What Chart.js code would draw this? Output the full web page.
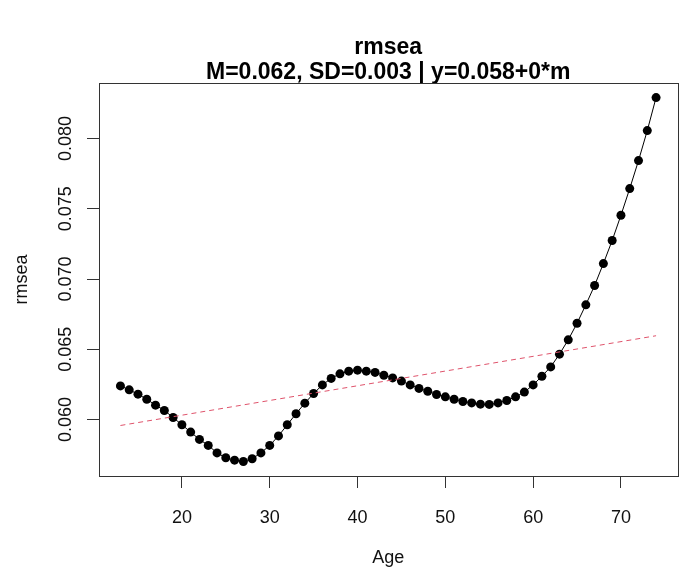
<!DOCTYPE html>
<html>
<head>
<meta charset="utf-8">
<script src="https://cdn.jsdelivr.net/npm/chart.js@4/dist/chart.umd.min.js"></script>
<style>
  html, body { margin: 0; padding: 0; background: #fff; overflow: hidden; }
  #wrap { width: 681px; height: 570px; overflow: hidden; }
</style>
</head>
<body>
<div id="wrap"><canvas id="rmseaPlot" width="682" height="570"></canvas></div>
<script>
const ages = [];
for (let a = 13; a <= 74; a++) ages.push(a);

const rmsea = [
	0.06239, 0.06211, 0.06180, 0.06144, 0.06102, 0.06064, 0.06014, 0.05962,
	0.05910, 0.05858, 0.05815, 0.05762, 0.05727, 0.05710, 0.05701, 0.05720,
	0.05762, 0.05815, 0.05883, 0.05962, 0.06041, 0.06116, 0.06185, 0.06246,
	0.06292, 0.06325, 0.06344, 0.06351, 0.06344, 0.06335, 0.06315, 0.06296,
	0.06273, 0.06246, 0.06221, 0.06201, 0.06178, 0.06161, 0.06144, 0.06128,
	0.06118, 0.06109, 0.06107, 0.06118, 0.06135, 0.06161, 0.06195, 0.06246,
	0.06308, 0.06374, 0.06465, 0.06567, 0.06685, 0.06816, 0.06954, 0.07110,
	0.07274, 0.07454, 0.07644, 0.07843, 0.08057, 0.08292,
];

const fitAges = [13, 74];
const fitValues = [0.05957, 0.06596];

const xTicks = [20, 30, 40, 50, 60, 70];
const yTicks = [0.060, 0.065, 0.070, 0.075, 0.080];

const titleLines = ["rmsea", "M=0.062, SD=0.003 | y=0.058+0*m"];

// R style axis range: data range plus 4% on each side
function rRange(vals) {
	const lo = Math.min(...vals);
	const hi = Math.max(...vals);
	const pad = (hi - lo) * 0.04;
	return [lo - pad, hi + pad];
}
const [xMin, xMax] = rRange(ages);
const [yMin, yMax] = rRange(rmsea);

const FONT = "'Liberation Sans', Arial, sans-serif";

const boxPlugin = {
	id: "box",
	afterDraw(chart) {
		const { ctx, chartArea: a } = chart;
		ctx.save();
		ctx.strokeStyle = "#333";
		ctx.lineWidth = 1;
		ctx.strokeRect(Math.round(a.left) + 0.5, Math.round(a.top) + 0.5,
			Math.round(a.right - a.left), Math.round(a.bottom - a.top));
		ctx.restore();
	},
};

new Chart(document.getElementById("rmseaPlot"), {
	type: "line",
	data: {
		datasets: [
			{
				label: "fit",
				data: fitAges.map((a, i) => ({ x: a, y: fitValues[i] })),
				borderColor: "#DF536B",
				borderWidth: 1,
				borderDash: [5, 4],
				pointRadius: 0,
				fill: false,
			},
			{
				label: "rmsea",
				data: ages.map((a, i) => ({ x: a, y: rmsea[i] })),
				borderColor: "#000",
				borderWidth: 1,
				pointRadius: 4.5,
				pointBackgroundColor: "#000",
				pointBorderWidth: 0,
				fill: false,
				tension: 0,
			},
		],
	},
	options: {
		responsive: false,
		animation: false,
		layout: { padding: { left: 0, right: 0, top: 0, bottom: 0 } },
		plugins: {
			legend: { display: false },
			tooltip: { enabled: false },
			title: {
				display: true,
				text: titleLines,
				fullSize: false,
				color: "#000",
				font: { family: FONT, size: 23, weight: "bold", lineHeight: 1.087 },
				padding: { top: 35, bottom: -2 },
			},
		},
		scales: {
			x: {
				type: "linear",
				min: xMin,
				max: xMax,
				afterBuildTicks: (s) => { s.ticks = xTicks.map((v) => ({ value: v })); },
				afterFit: (s) => { s.height = 94; },
				border: { display: false },
				grid: { drawOnChartArea: false, drawTicks: true, tickLength: 12, color: "#333" },
				ticks: {
					autoSkip: false,
					maxRotation: 0,
					padding: 19,
					color: "#111",
					font: { family: FONT, size: 18 },
				},
				title: {
					display: true,
					text: "Age",
					color: "#111",
					font: { family: FONT, size: 18 },
					padding: { top: 0, bottom: 1 },
				},
			},
			y: {
				type: "linear",
				min: yMin,
				max: yMax,
				afterBuildTicks: (s) => { s.ticks = yTicks.map((v) => ({ value: v })); },
				afterFit: (s) => { s.width = 99; },
				border: { display: false },
				grid: { drawOnChartArea: false, drawTicks: true, tickLength: 12, color: "#333" },
				ticks: {
					autoSkip: false,
					minRotation: 90,
					maxRotation: 90,
					crossAlign: "center",
					padding: -2,
					color: "#111",
					font: { family: FONT, size: 18 },
					callback: (v) => v.toFixed(3),
				},
				title: {
					display: true,
					text: "rmsea",
					color: "#111",
					font: { family: FONT, size: 18 },
					padding: { top: 11, bottom: 0 },
				},
			},
		},
	},
	plugins: [boxPlugin],
});
</script>
</body>
</html>
